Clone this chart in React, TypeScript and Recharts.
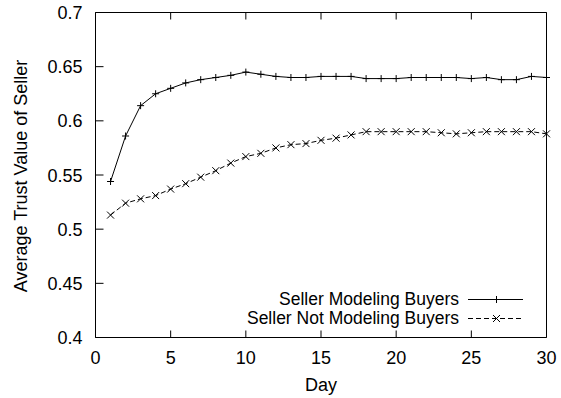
import { Label, Line, LineChart, ReferenceArea, XAxis, YAxis } from "recharts";

const days = [1, 2, 3, 4, 5, 6, 7, 8, 9, 10, 11, 12, 13, 14, 15, 16, 17, 18, 19, 20, 21, 22, 23, 24, 25, 26, 27, 28, 29, 30];
const modeling = [
    0.544, 0.586, 0.614, 0.625, 0.630, 0.635, 0.638, 0.640, 0.642, 0.645,
    0.643, 0.641, 0.640, 0.640, 0.641, 0.641, 0.641, 0.639, 0.639, 0.639,
    0.640, 0.640, 0.640, 0.640, 0.639, 0.640, 0.638, 0.638, 0.641, 0.640,
];
const notModeling = [
    0.513, 0.524, 0.528, 0.531, 0.537, 0.542, 0.548, 0.554, 0.561, 0.567,
    0.570, 0.575, 0.578, 0.579, 0.582, 0.584, 0.587, 0.590, 0.590, 0.590,
    0.590, 0.590, 0.589, 0.588, 0.589, 0.590, 0.590, 0.590, 0.590, 0.588,
];
const xTicks = [0, 5, 10, 15, 20, 25, 30];
const yTicks = [0.4, 0.45, 0.5, 0.55, 0.6, 0.65, 0.7];
const seriesNames = ["Seller Modeling Buyers", "Seller Not Modeling Buyers"];

const data = days.map((day, i) => ({ day, modeling: modeling[i], notModeling: notModeling[i] }));

const FONT = "'Liberation Sans', Arial, Helvetica, sans-serif";
const FS = 18;

// gnuplot-style ticks: short marks pointing into the plot, labels only on left/bottom
const BottomTick = ({ x, y, payload }: any) => (
    <g>
        <line x1={x} y1={y} x2={x} y2={y - 7} stroke="#000" />
        <text x={x} y={y + 26} textAnchor="middle" fontSize={FS} fontFamily={FONT} fill="#000">
            {payload.value}
        </text>
    </g>
);
const TopTick = ({ x, y }: any) => <line x1={x} y1={y} x2={x} y2={y + 7} stroke="#000" />;
const LeftTick = ({ x, y, payload }: any) => (
    <g>
        <line x1={x} y1={y} x2={x + 8} y2={y} stroke="#000" />
        <text x={x - 13} y={y + 6.5} textAnchor="end" fontSize={FS} fontFamily={FONT} fill="#000">
            {payload.value}
        </text>
    </g>
);
const RightTick = ({ x, y }: any) => <line x1={x} y1={y} x2={x - 8} y2={y} stroke="#000" />;

const PlusDot = ({ cx, cy, index }: any) => (
    <path key={`p${index}`} d={`M${cx - 3.5},${cy}H${cx + 3.5}M${cx},${cy - 3.5}V${cy + 3.5}`} stroke="#000" fill="none" />
);
const CrossDot = ({ cx, cy, index }: any) => (
    <path
        key={`x${index}`}
        d={`M${cx - 3.5},${cy - 3.5}L${cx + 3.5},${cy + 3.5}M${cx - 3.5},${cy + 3.5}L${cx + 3.5},${cy - 3.5}`}
        stroke="#000"
        fill="none"
    />
);

function KeyBox() {
    const rows = [
        { name: seriesNames[0], y: 305, dash: undefined, mark: "plus" },
        { name: seriesNames[1], y: 324, dash: "5 3", mark: "cross" },
    ];
    return (
        <svg width={561} height={398} style={{ position: "absolute", left: 0, top: 0, pointerEvents: "none" }}>
            {rows.map((r) => {
                const ly = Math.round(r.y - 6) + 0.5;
                return (
                    <g key={r.name}>
                        <text x={459} y={r.y} textAnchor="end" fontSize={17.5} fontFamily={FONT} fill="#000">
                            {r.name}
                        </text>
                        <line x1={468} y1={ly} x2={523} y2={ly} stroke="#000" strokeDasharray={r.dash} />
                        {r.mark === "plus" ? <PlusDot cx={496.5} cy={ly} index={0} /> : <CrossDot cx={496.5} cy={ly} index={0} />}
                    </g>
                );
            })}
        </svg>
    );
}

export default function App() {
    return (
        <div style={{ position: "absolute", left: 0, top: 0, width: 561, height: 398, background: "#fff" }}>
            <LineChart width={561} height={398} data={data} margin={{ top: 12, right: 14, bottom: 0, left: 0 }}>
                <XAxis
                    dataKey="day"
                    type="number"
                    domain={[0, 30]}
                    ticks={xTicks}
                    interval={0}
                    height={60.5}
                    tickSize={0}
                    tickMargin={0}
                    tickLine={false}
                    axisLine={false}
                    tick={<BottomTick />}
                >
                    <Label
                        content={() => (
                            <text x={321} y={391} textAnchor="middle" fontSize={FS} fontFamily={FONT} fill="#000">
                                Day
                            </text>
                        )}
                    />
                </XAxis>
                <XAxis
                    xAxisId="top"
                    orientation="top"
                    dataKey="day"
                    type="number"
                    domain={[0, 30]}
                    ticks={xTicks}
                    interval={0}
                    height={0.5}
                    tickSize={0}
                    tickMargin={0}
                    tickLine={false}
                    axisLine={false}
                    tick={<TopTick />}
                />
                <YAxis
                    type="number"
                    domain={[0.4, 0.7]}
                    ticks={yTicks}
                    interval={0}
                    width={95.5}
                    tickSize={0}
                    tickMargin={0}
                    tickLine={false}
                    axisLine={false}
                    tick={<LeftTick />}
                >
                    <Label
                        content={() => (
                            <text
                                x={27}
                                y={176}
                                transform="rotate(-90, 27, 176)"
                                textAnchor="middle"
                                fontSize={FS}
                                fontFamily={FONT}
                                fill="#000"
                            >
                                Average Trust Value of Seller
                            </text>
                        )}
                    />
                </YAxis>
                <YAxis
                    yAxisId="right"
                    orientation="right"
                    type="number"
                    domain={[0.4, 0.7]}
                    ticks={yTicks}
                    interval={0}
                    width={0.5}
                    tickSize={0}
                    tickMargin={0}
                    tickLine={false}
                    axisLine={false}
                    tick={<RightTick />}
                />
                {/* plot frame */}
                <ReferenceArea
                    x1={0}
                    x2={30}
                    y1={0.4}
                    y2={0.7}
                    fill="none"
                    fillOpacity={0}
                    stroke="#000"
                    strokeWidth={1}
                    ifOverflow="visible"
                />
                <Line
                    dataKey="modeling"
                    name={seriesNames[0]}
                    stroke="#000"
                    strokeWidth={1}
                    dot={PlusDot}
                    activeDot={false}
                    isAnimationActive={false}
                />
                <Line
                    dataKey="notModeling"
                    name={seriesNames[1]}
                    stroke="#000"
                    strokeWidth={1}
                    strokeDasharray="5 3"
                    dot={CrossDot}
                    activeDot={false}
                    isAnimationActive={false}
                />
            </LineChart>
            <KeyBox />
        </div>
    );
}
